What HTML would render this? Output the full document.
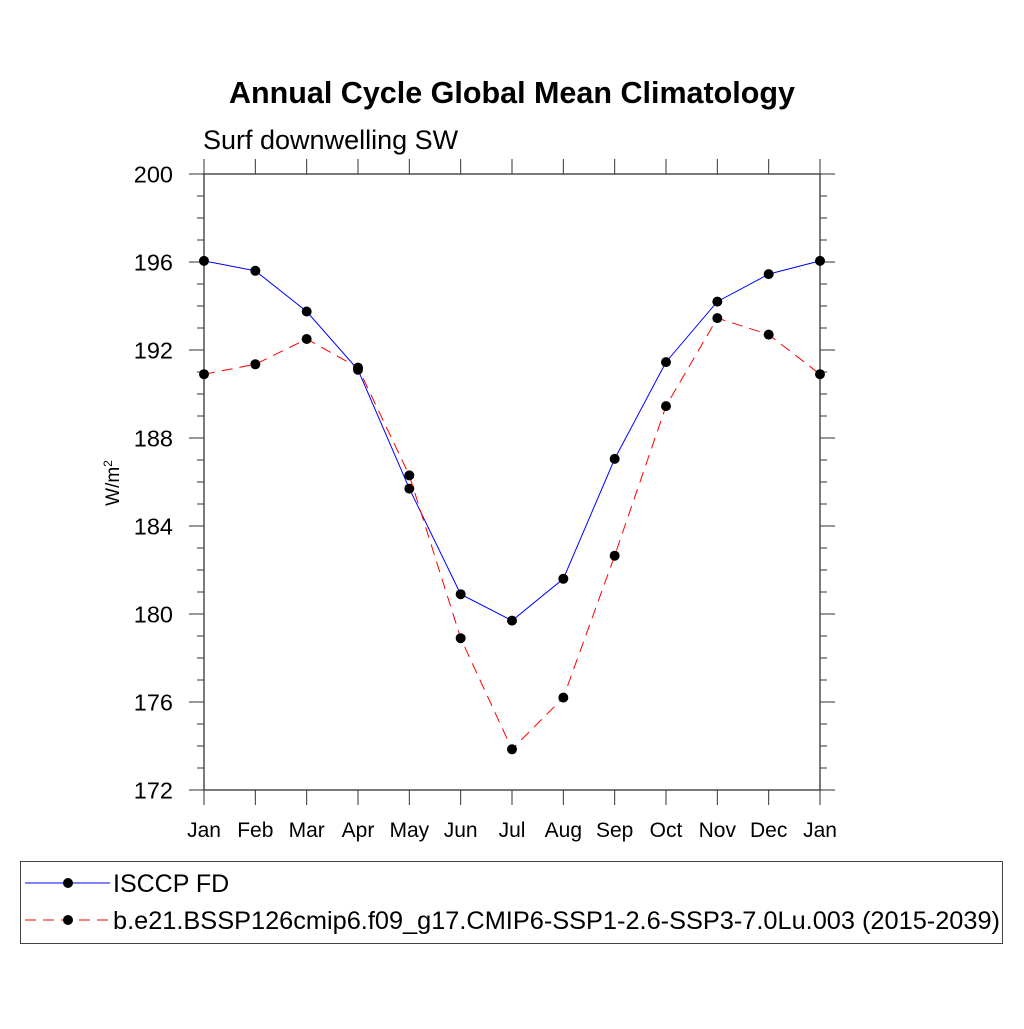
<!DOCTYPE html>
<html><head><meta charset="utf-8"><style>
body{margin:0;background:#fff;width:1024px;height:1024px;overflow:hidden}
svg{font-family:"Liberation Sans",sans-serif}
</style></head><body>
<svg id="chart" width="1024" height="1024" xmlns="http://www.w3.org/2000/svg">
<text x="512" y="103" text-anchor="middle" font-size="30.5" font-weight="bold">Annual Cycle Global Mean Climatology</text>
<text x="203" y="149" font-size="27">Surf downwelling SW</text>
<text transform="translate(119,483) rotate(-90)" text-anchor="middle" font-size="19">W/m<tspan dy="-7" font-size="12">2</tspan></text>
<g id="axes"></g>
<g id="series"></g>
<rect x="20.5" y="861.5" width="982" height="82" fill="none" stroke="#444" stroke-width="1"/>
<g>
<line x1="25" y1="883" x2="110" y2="883" stroke="#00f" stroke-width="1"/>
<circle cx="68" cy="883" r="5" fill="#000"/>
<text x="113" y="892" font-size="25">ISCCP FD</text></g>
<g>
<line x1="25" y1="920" x2="110" y2="920" stroke="#f00" stroke-width="1" stroke-dasharray="11,7"/>
<circle cx="68" cy="920" r="5" fill="#000"/>
<text x="113" y="929" font-size="25" textLength="887" lengthAdjust="spacingAndGlyphs">b.e21.BSSP126cmip6.f09_g17.CMIP6-SSP1-2.6-SSP3-7.0Lu.003 (2015-2039)</text></g>
</svg>
<script>
const months=["Jan","Feb","Mar","Apr","May","Jun","Jul","Aug","Sep","Oct","Nov","Dec","Jan"];
const isccp=[196.05,195.6,193.75,191.1,185.7,180.9,179.7,181.6,187.05,191.45,194.2,195.45,196.05];
const model=[190.9,191.35,192.5,191.2,186.3,178.9,173.85,176.2,182.65,189.45,193.45,192.7,190.9];
const yTicks=[172,176,180,184,188,192,196,200];
const X0=204,X1=820,Y0=174,Y1=790,YMIN=172,YMAX=200;
const xs=i=>X0+(X1-X0)*i/12;
const ys=v=>Y1-(v-YMIN)/(YMAX-YMIN)*(Y1-Y0);
const NS="http://www.w3.org/2000/svg";
const ax=document.getElementById('axes'),se=document.getElementById('series');
function mk(t,a,p){const e=document.createElementNS(NS,t);for(const k in a)e.setAttribute(k,a[k]);p.appendChild(e);return e;}
const fr=mk('rect',{x:X0,y:Y0,width:X1-X0,height:Y1-Y0,fill:'none',stroke:'#333','stroke-width':1.3},ax);


for(let v=YMIN;v<=YMAX;v++){const y=ys(v),L=(v%4===0)?15:7;
mk('line',{x1:X0,y1:y,x2:X0-L,y2:y,stroke:'#333'},ax);
mk('line',{x1:X1,y1:y,x2:X1+L,y2:y,stroke:'#333'},ax);}
yTicks.forEach(v=>{const t=mk('text',{x:173,y:ys(v)+8.5,'text-anchor':'end','font-size':23.5},ax);t.textContent=v;

});
months.forEach((m,i)=>{const x=xs(i);
mk('line',{x1:x,y1:Y1,x2:x,y2:Y1+15,stroke:'#333'},ax);
mk('line',{x1:x,y1:Y0,x2:x,y2:Y0-15,stroke:'#333'},ax);
const t=mk('text',{x:x,y:837,'text-anchor':'middle','font-size':21},ax);t.textContent=m;

});
function draw(d,col,dash,name){
const p=mk('polyline',{points:d.map((v,i)=>xs(i)+','+ys(v)).join(' '),fill:'none',stroke:col,'stroke-width':1},se);
if(dash)p.setAttribute('stroke-dasharray',dash);


d.forEach((v,i)=>{const c=mk('circle',{cx:xs(i),cy:ys(v),r:5,fill:'#000'},se);

});}
draw(isccp,'#00f',null,'isccp');
draw(model,'#f00','11,7','model');
</script>
</body></html>
